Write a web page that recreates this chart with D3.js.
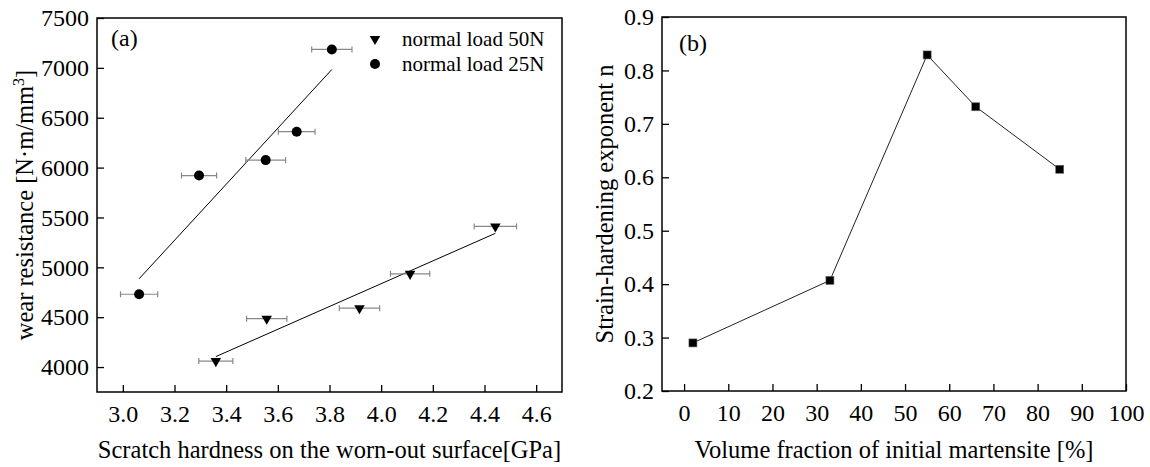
<!DOCTYPE html>
<html>
<head>
<meta charset="utf-8">
<script src="https://cdn.jsdelivr.net/npm/d3@7"></script>
<style>
  body { margin: 0; background: #fff; }
  svg { display: block; font-family: "Liberation Serif", "Times New Roman", serif; }
  .tick text { fill: #000; }
  .tick line { stroke: #000; stroke-width: 1.3; }
</style>
</head>
<body>
<div id="chart"></div>
<script>
/* two panels: (a) wear resistance vs scratch hardness, (b) strain-hardening exponent */

// panel (a) data
const hardness25 = [3.063, 3.295, 3.553, 3.673, 3.809],
    wear25 = [4730, 5920, 6075, 6360, 7185],
    err25 = [0.072, 0.068, 0.077, 0.071, 0.078];

const hardness50 = [3.36, 3.557, 3.916, 4.112, 4.442],
    wear50 = [4060, 4485, 4590, 4935, 5410],
    err50 = [0.066, 0.078, 0.078, 0.076, 0.082];

const xTicksA = [3.0, 3.2, 3.4, 3.6, 3.8, 4.0, 4.2, 4.4, 4.6],
    yTicksA = [4000, 4500, 5000, 5500, 6000, 6500, 7000, 7500];

const legendLabels = ["normal load 50N", "normal load 25N"];

// panel (b) data
const martensite = [2, 33, 55, 66, 85],
    exponentN = [0.29, 0.407, 0.829, 0.732, 0.615];

const xTicksB = [0, 10, 20, 30, 40, 50, 60, 70, 80, 90, 100],
    yTicksB = [0.2, 0.3, 0.4, 0.5, 0.6, 0.7, 0.8, 0.9];

const width = 1150,
    height = 467,
    serif = "'Liberation Serif', 'Times New Roman', serif";

const svg = d3.select("#chart")
    .append("svg")
    .attr("width", width)
    .attr("height", height)
    .attr("viewBox", [0, 0, width, height]);

// plot boxes (pixel edges of each frame)
const boxA = { left: 97, right: 562, top: 18, bottom: 392 },
    boxB = { left: 662, right: 1126, top: 17, bottom: 391 };

// d3 axis puts sans-serif 10px on the group -- swap it back
const serifTicks = g => g.attr("font-family", serif).attr("font-size", 24)
    .call(g => g.select(".domain").remove());

/* ---------- panel (a) ---------- */
let xA = d3.scaleLinear().domain([2.9, 4.7]).range([boxA.left, boxA.right]);
let yA = d3.scaleLinear().domain([3750, 7500]).range([boxA.bottom, boxA.top]);

// ticks point inward, so negative inner size
svg.append("g")
    .attr("transform", `translate(0,${boxA.bottom})`)
    .call(d3.axisBottom(xA).tickValues(xTicksA).tickFormat(d3.format(".1f"))
        .tickSizeInner(-7).tickSizeOuter(0).tickPadding(13))
    .call(serifTicks);

svg.append("g")
    .attr("transform", `translate(${boxA.left},0)`)
    .call(d3.axisLeft(yA).tickValues(yTicksA).tickFormat(d3.format("d"))
        .tickSizeInner(-7).tickSizeOuter(0).tickPadding(8))
    .call(serifTicks);

svg.append("rect")
    .attr("x", boxA.left).attr("y", boxA.top)
    .attr("width", boxA.right - boxA.left).attr("height", boxA.bottom - boxA.top)
    .attr("fill", "none").attr("stroke", "#000").attr("stroke-width", 1.5);

// least squares fit over each series' x range
function fitLine(xs, ys) {
    let mx = d3.mean(xs), my = d3.mean(ys);
    let sxy = d3.sum(xs, (x, i) => (x - mx) * (ys[i] - my));
    let sxx = d3.sum(xs, x => (x - mx) * (x - mx));
    let b = sxy / sxx;
    return d3.extent(xs).map(x => [x, my + b * (x - mx)]);
}

let line = d3.line().x(d => xA(d[0])).y(d => yA(d[1]));

[[hardness25, wear25], [hardness50, wear50]].forEach(([xs, ys]) => {
    svg.append("path")
        .datum(fitLine(xs, ys))
        .attr("d", line)
        .attr("fill", "none")
        .attr("stroke", "#000")
        .attr("stroke-width", 1);
});

// horizontal error bars
function errorBars(xs, ys, errs) {
    let g = svg.append("g").attr("stroke", "#888").attr("stroke-width", 1.2);
    xs.forEach((x, i) => {
        let cy = yA(ys[i]);
        g.append("line").attr("x1", xA(x - errs[i])).attr("x2", xA(x + errs[i]))
            .attr("y1", cy).attr("y2", cy);
        [x - errs[i], x + errs[i]].forEach(e => {
            g.append("line").attr("x1", xA(e)).attr("x2", xA(e))
                .attr("y1", cy - 3).attr("y2", cy + 3);
        });
    });
}
errorBars(hardness25, wear25, err25);
errorBars(hardness50, wear50, err50);

svg.append("g").selectAll("circle")
    .data(hardness25)
    .join("circle")
    .attr("cx", d => xA(d))
    .attr("cy", (d, i) => yA(wear25[i]))
    .attr("r", 5)
    .attr("fill", "#000");

const triDown = d3.symbol().type(d3.symbolTriangle).size(48);

svg.append("g").selectAll("path")
    .data(hardness50)
    .join("path")
    .attr("d", triDown)
    .attr("transform", (d, i) => `translate(${xA(d)},${yA(wear50[i])}) rotate(180)`)
    .attr("fill", "#000");

// legend
let legend = svg.append("g").attr("font-size", 21);
legend.append("path")
    .attr("d", triDown)
    .attr("transform", "translate(375,39) rotate(180)");
legend.append("circle").attr("cx", 375).attr("cy", 64).attr("r", 5);
legendLabels.forEach((t, i) => {
    legend.append("text")
        .attr("x", 402)
        .attr("y", 46 + i * 25)
        .text(t);
});

svg.append("text")
    .attr("x", 111).attr("y", 46)
    .attr("font-size", 24)
    .text("(a)");

svg.append("text")
    .attr("text-anchor", "middle")
    .attr("x", (boxA.left + boxA.right) / 2)
    .attr("y", 458)
    .attr("font-size", 24.5)
    .text("Scratch hardness on the worn-out surface[GPa]");

let yLabelA = svg.append("text")
    .attr("text-anchor", "middle")
    .attr("transform", `translate(33,${(boxA.top + boxA.bottom) / 2}) rotate(-90)`)
    .attr("font-size", 24.5);
yLabelA.append("tspan").text("wear resistance [N·m/mm");
yLabelA.append("tspan").attr("dy", -9).attr("font-size", 16).text("3");
yLabelA.append("tspan").attr("dy", 9).text("]");

/* ---------- panel (b) ---------- */
let xB = d3.scaleLinear().domain([-5, 100]).range([boxB.left, boxB.right]);
let yB = d3.scaleLinear().domain([0.2, 0.9]).range([boxB.bottom, boxB.top]);

svg.append("g")
    .attr("transform", `translate(0,${boxB.bottom})`)
    .call(d3.axisBottom(xB).tickValues(xTicksB).tickFormat(d3.format("d"))
        .tickSizeInner(-7).tickSizeOuter(0).tickPadding(13))
    .call(serifTicks);

svg.append("g")
    .attr("transform", `translate(${boxB.left},0)`)
    .call(d3.axisLeft(yB).tickValues(yTicksB).tickFormat(d3.format(".1f"))
        .tickSizeInner(-7).tickSizeOuter(0).tickPadding(8))
    .call(serifTicks);

svg.append("rect")
    .attr("x", boxB.left).attr("y", boxB.top)
    .attr("width", boxB.right - boxB.left).attr("height", boxB.bottom - boxB.top)
    .attr("fill", "none").attr("stroke", "#000").attr("stroke-width", 1.5);

let lineB = d3.line()
    .x((d, i) => xB(d))
    .y((d, i) => yB(exponentN[i]));

svg.append("path")
    .datum(martensite)
    .attr("d", lineB)
    .attr("fill", "none")
    .attr("stroke", "#222")
    .attr("stroke-width", 1);

svg.append("g").selectAll("rect")
    .data(martensite)
    .join("rect")
    .attr("x", d => xB(d) - 4)
    .attr("y", (d, i) => yB(exponentN[i]) - 4)
    .attr("width", 8)
    .attr("height", 8)
    .attr("fill", "#000")
    .attr("stroke", "#666")
    .attr("stroke-width", 0.6);

svg.append("text")
    .attr("x", 679).attr("y", 51)
    .attr("font-size", 24)
    .text("(b)");

svg.append("text")
    .attr("text-anchor", "middle")
    .attr("x", (boxB.left + boxB.right) / 2)
    .attr("y", 458)
    .attr("font-size", 24.5)
    .text("Volume fraction of initial martensite [%]");

svg.append("text")
    .attr("text-anchor", "middle")
    .attr("transform", `translate(613,${(boxB.top + boxB.bottom) / 2}) rotate(-90)`)
    .attr("font-size", 24.5)
    .text("Strain-hardening exponent n");
</script>
</body>
</html>
